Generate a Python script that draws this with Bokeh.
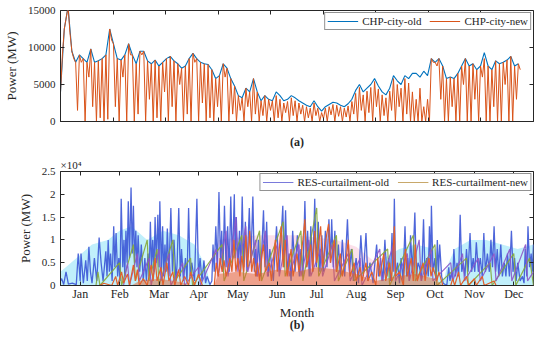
from bokeh.plotting import figure
from bokeh.layouts import column
from bokeh.models import LinearAxis, FixedTicker, Range1d, Legend, LegendItem, Title
from bokeh.embed import file_html
from bokeh.resources import INLINE

# ---------------- data ----------------
# (a) CHP city output, MW, sampled every 72 h (old) and every 36 h (new)
chp_old_hour = list(range(0, 8761, 72))
chp_old = [4000, 12500, 15500, 9500, 8000, 9000, 8500, 8000, 9800, 8000,
           8200, 8500, 9000, 12500, 10500, 8500, 8300, 9000, 10500, 9000,
           7800, 9500, 9500, 8200, 7800, 8300, 7500, 8000, 8500, 8800,
           8200, 7800, 7200, 7500, 8500, 9200, 8500, 8000, 7800, 7700,
           7000, 5800, 6200, 7800, 7200, 5800, 4800, 3500, 3200, 4500,
           4000, 5800, 4000, 2800, 3500, 3000, 2800, 4000, 3500, 2800,
           3000, 3500, 3200, 2800, 2500, 2200, 2000, 2800, 2000, 1400,
           2000, 2300, 2600, 2500, 2200, 2000, 2400, 3000, 4200, 5000,
           4000, 4500, 5000, 5800, 4800, 4000, 3600, 4500, 6200, 5500,
           5000, 6200, 5800, 6500, 6500, 6000, 6800, 6200, 8500, 8000,
           8500, 7500, 5800, 6000, 5800, 6500, 7500, 8500, 7500, 7800,
           7000, 7500, 9300, 7500, 7000, 8200, 7800, 8000, 8300, 8800,
           7500, 7800]
chp_new_hour = list(range(0, 8761, 36))
chp_new = [4000, 9000, 12500, 14000, 15500, 12000, 9500, 8500, 8000, 1500, 9000, 8000, 8500, 0, 8000, 6000, 9800, 2000, 8000, 0,
           8200, 500, 8500, 0, 9000, 300, 12500, 11000, 10500, 2000, 8500, 0, 8300, 6000, 9000, 0, 10500, 9000, 9000, 0,
           7800, 1000, 9500, 9000, 9500, 0, 8200, 3000, 7800, 0, 8300, 500, 7500, 0, 8000, 4000, 8500, 0, 8800, 2000,
           8200, 0, 7800, 5000, 7200, 0, 7500, 1000, 8500, 0, 9200, 8000, 8500, 0, 8000, 2500, 7800, 0, 7700, 500,
           7000, 0, 5800, 2000, 6200, 0, 7800, 6000, 7200, 0, 5800, 1000, 4800, 0, 3500, 1500, 3200, 0, 4500, 2000,
           4000, 0, 5800, 1000, 4000, 0, 2800, 800, 3500, 0, 3000, 1500, 2800, 0, 3500, 500, 3000, 0, 2500, 1200,
           2700, 0, 3200, 800, 2800, 0, 2500, 1000, 2200, 0, 2000, 500, 1800, 0, 2500, 800, 1800, 0, 1200, 400,
           1800, 0, 2000, 900, 2300, 0, 2200, 700, 2000, 0, 1800, 600, 2100, 0, 2700, 1000, 3800, 0, 4600, 1500,
           3600, 0, 4100, 1200, 4600, 0, 5400, 2000, 4400, 0, 3600, 800, 3200, 0, 4100, 1500, 5800, 0, 5000, 2000,
           4500, 0, 5800, 1000, 5200, 0, 4000, 0, 3000, 0, 4500, 0, 2000, 0, 3000, 0, 8500, 8000, 8000, 7500,
           8500, 3000, 7500, 0, 5800, 0, 6000, 2000, 5800, 0, 6500, 0, 7500, 5000, 8500, 0, 7500, 0, 7800, 3000,
           7000, 0, 7500, 6000, 8500, 0, 7500, 0, 7000, 2000, 8200, 0, 7800, 0, 8000, 5000, 8300, 0, 8800, 0,
           7500, 3000, 7800, 7000]

# (b) RES curtailment, (month, power in 10^4 MW)
res_old = [(0.00, 0.10), (0.03, 0.15), (0.08, 0.02), (0.14, 0.30), (0.20, 0.03), (0.30, 0.05), (0.40, 0.02),
           (0.45, 0.70), (0.50, 0.10), (0.52, 0.70), (0.58, 0.05), (0.64, 0.55), (0.68, 0.10), (0.72, 0.85),
           (0.76, 0.30), (0.80, 0.05), (0.86, 0.60), (0.92, 0.10), (0.98, 1.05), (1.03, 0.50), (1.08, 0.10),
           (1.15, 0.75), (1.18, 0.20), (1.21, 1.00), (1.24, 0.30), (1.27, 0.70), (1.31, 0.10), (1.35, 1.30),
           (1.38, 0.40), (1.41, 1.15), (1.45, 0.20), (1.48, 0.60), (1.51, 0.10), (1.54, 1.90), (1.58, 0.40),
           (1.61, 1.00), (1.63, 0.20), (1.66, 1.20), (1.69, 0.50), (1.72, 1.85), (1.75, 0.60), (1.79, 2.15),
           (1.82, 0.70), (1.85, 1.75), (1.88, 0.50), (1.91, 1.20), (1.94, 0.40), (1.97, 1.10), (2.01, 0.30),
           (2.05, 0.90), (2.10, 0.10), (2.14, 0.60), (2.18, 0.10), (2.22, 0.70), (2.25, 0.20), (2.28, 1.40),
           (2.31, 0.40), (2.34, 1.00), (2.37, 0.30), (2.40, 1.50), (2.43, 0.50), (2.47, 1.55), (2.50, 0.40),
           (2.52, 1.85), (2.56, 0.30), (2.59, 1.30), (2.62, 0.20), (2.65, 0.90), (2.68, 0.30), (2.71, 1.25),
           (2.75, 0.20), (2.80, 1.70), (2.84, 0.30), (2.88, 1.00), (2.93, 0.10), (2.96, 0.50), (3.00, 1.70),
           (3.04, 0.20), (3.07, 0.80), (3.12, 0.10), (3.17, 0.60), (3.21, 0.10), (3.25, 1.70), (3.29, 0.20),
           (3.33, 0.50), (3.40, 0.10), (3.46, 1.90), (3.50, 0.20), (3.54, 0.60), (3.59, 0.10), (3.64, 0.55),
           (3.68, 0.05), (3.72, 0.20), (3.79, 0.02), (3.84, 0.10), (3.87, 0.90), (3.90, 0.30), (3.94, 1.30),
           (3.98, 0.40), (4.02, 2.05), (4.06, 0.50), (4.09, 1.20), (4.12, 0.30), (4.16, 1.75), (4.20, 0.40),
           (4.24, 1.30), (4.28, 0.30), (4.32, 1.95), (4.36, 0.50), (4.41, 2.00), (4.43, 0.60), (4.46, 1.50),
           (4.50, 0.40), (4.54, 1.20), (4.57, 0.30), (4.61, 1.95), (4.65, 0.40), (4.69, 1.40), (4.73, 0.30),
           (4.79, 1.70), (4.83, 0.50), (4.88, 1.95), (4.92, 0.30), (4.95, 0.80), (4.98, 0.20), (5.02, 1.00),
           (5.08, 0.20), (5.15, 1.65), (5.19, 0.40), (5.23, 1.40), (5.27, 0.20), (5.31, 0.80), (5.40, 0.10),
           (5.48, 1.30), (5.55, 0.30), (5.64, 1.75), (5.67, 0.40), (5.71, 1.65), (5.75, 0.30), (5.80, 0.70),
           (5.85, 0.10), (5.89, 1.20), (5.95, 0.30), (6.01, 1.10), (6.06, 0.20), (6.10, 0.80), (6.15, 0.20),
           (6.20, 1.85), (6.24, 0.40), (6.27, 1.20), (6.31, 0.20), (6.35, 1.30), (6.40, 0.30), (6.45, 1.90),
           (6.49, 0.40), (6.54, 1.40), (6.58, 0.30), (6.63, 1.10), (6.67, 0.30), (6.72, 1.20), (6.76, 0.40),
           (6.81, 1.45), (6.85, 0.50), (6.88, 1.45), (6.92, 0.40), (6.96, 1.20), (7.00, 0.30), (7.05, 0.90),
           (7.10, 0.20), (7.15, 1.00), (7.21, 0.20), (7.28, 1.45), (7.33, 0.30), (7.38, 0.80), (7.43, 0.10),
           (7.50, 0.60), (7.56, 0.05), (7.62, 1.10), (7.68, 0.20), (7.75, 1.15), (7.80, 0.10), (7.85, 0.50),
           (7.93, 0.05), (8.02, 0.90), (8.07, 0.20), (8.12, 0.60), (8.18, 0.10), (8.23, 1.00), (8.28, 0.20),
           (8.33, 0.60), (8.37, 0.10), (8.41, 1.15), (8.44, 0.30), (8.47, 1.90), (8.50, 0.20), (8.55, 0.50),
           (8.60, 0.05), (8.64, 0.60), (8.69, 0.10), (8.74, 1.30), (8.78, 0.20), (8.81, 0.60), (8.85, 0.10),
           (8.88, 1.10), (8.93, 0.30), (8.99, 1.60), (9.03, 0.20), (9.07, 0.50), (9.11, 0.40), (9.16, 0.10),
           (9.21, 1.45), (9.25, 0.20), (9.29, 0.60), (9.33, 0.20), (9.36, 1.30), (9.39, 0.40), (9.41, 1.75),
           (9.45, 0.30), (9.50, 0.60), (9.53, 0.10), (9.56, 1.00), (9.59, 0.30), (9.62, 0.90), (9.67, 0.20),
           (9.71, 0.05), (9.80, 0.00), (9.85, 0.40), (9.88, 0.10), (9.92, 0.30), (9.95, 0.10), (9.98, 0.80),
           (10.02, 0.20), (10.06, 0.50), (10.10, 0.20), (10.14, 1.55), (10.18, 0.30), (10.22, 0.50),
           (10.26, 0.20), (10.30, 0.80), (10.34, 0.30), (10.39, 1.15), (10.43, 0.30), (10.47, 0.60),
           (10.51, 0.30), (10.55, 0.95), (10.60, 0.30), (10.65, 0.60), (10.70, 0.20), (10.74, 1.15),
           (10.78, 0.30), (10.83, 0.70), (10.88, 0.30), (10.92, 1.00), (10.96, 0.40), (11.00, 1.30),
           (11.04, 0.30), (11.08, 0.80), (11.12, 0.20), (11.17, 0.90), (11.21, 0.20), (11.26, 0.50),
           (11.30, 0.20), (11.34, 0.70), (11.39, 0.20), (11.44, 1.20), (11.48, 0.30), (11.52, 0.60),
           (11.56, 0.10), (11.60, 0.50), (11.66, 0.10), (11.72, 0.20), (11.76, 0.05), (11.79, 0.80),
           (11.83, 0.20), (11.86, 1.30), (11.90, 0.40), (11.94, 0.70), (11.97, 0.30), (12.00, 0.90)]
res_new = [(0.0, 0.0), (1.0, 0.0), (1.1, 0.05), (1.3, 0.0), (1.4, 0.2), (1.45, 0.0), (1.55, 0.3), (1.6, 0.05),
           (1.7, 0.25), (1.75, 0.0), (1.85, 0.45), (1.9, 0.1), (1.95, 0.35), (2.0, 0.0), (2.1, 0.15), (2.2, 0.0),
           (2.3, 0.45), (2.35, 0.1), (2.4, 0.6), (2.45, 0.1), (2.55, 0.4), (2.6, 0.0), (2.7, 0.5), (2.75, 0.1),
           (2.85, 0.3), (2.9, 0.0), (3.0, 0.35), (3.05, 0.0), (3.15, 0.2), (3.25, 0.0), (3.3, 0.3), (3.4, 0.0),
           (3.5, 0.25), (3.6, 0.0), (3.9, 0.0), (3.95, 0.5), (4.0, 0.2), (4.05, 0.6), (4.1, 0.3), (4.15, 0.55),
           (4.2, 0.2), (4.3, 0.6), (4.35, 0.3), (4.4, 1.0), (4.45, 0.3), (4.5, 0.6), (4.55, 0.2), (4.6, 0.65),
           (4.65, 0.3), (4.7, 1.1), (4.75, 0.4), (4.8, 1.2), (4.85, 0.3), (4.9, 0.6), (4.95, 0.2), (5.0, 0.5),
           (5.05, 0.1), (5.1, 0.6), (5.15, 0.9), (5.2, 0.3), (5.3, 0.5), (5.35, 0.1), (5.45, 1.0), (5.5, 0.3),
           (5.6, 1.3), (5.65, 0.4), (5.7, 1.0), (5.75, 0.2), (5.85, 0.8), (5.9, 0.2), (6.0, 0.7), (6.05, 0.3),
           (6.15, 1.0), (6.2, 1.45), (6.25, 0.4), (6.35, 0.9), (6.4, 0.3), (6.45, 1.2), (6.5, 0.5), (6.6, 1.3),
           (6.65, 0.4), (6.75, 1.1), (6.8, 1.35), (6.85, 0.5), (6.95, 1.0), (7.0, 0.3), (7.1, 0.7), (7.15, 0.2),
           (7.25, 0.6), (7.3, 1.0), (7.35, 0.2), (7.45, 0.5), (7.5, 0.1), (7.6, 0.4), (7.65, 0.1), (7.75, 0.5),
           (7.8, 0.1), (7.9, 0.3), (8.0, 0.0), (8.05, 0.6), (8.1, 0.2), (8.2, 0.7), (8.25, 0.1), (8.35, 0.5),
           (8.4, 0.1), (8.47, 1.3), (8.5, 0.2), (8.6, 0.3), (8.7, 0.0), (8.75, 0.8), (8.8, 0.2), (8.9, 0.6),
           (8.95, 0.1), (9.0, 0.9), (9.05, 0.1), (9.2, 0.5), (9.25, 0.1), (9.35, 0.6), (9.4, 0.2), (9.45, 0.4),
           (9.55, 0.1), (9.6, 0.3), (9.7, 0.0), (9.9, 0.0), (9.95, 0.15), (10.0, 0.0), (10.1, 0.3), (10.15, 0.0),
           (10.3, 0.2), (10.35, 0.0), (10.5, 0.15), (10.55, 0.0), (10.7, 0.2), (10.75, 0.0), (11.0, 0.1),
           (11.05, 0.0), (12.0, 0.0)]
res_new_base = [(1.8, 0.0), (2.0, 0.1), (2.5, 0.15), (3.0, 0.08), (3.3, 0.0), (3.9, 0.0), (4.0, 0.25), (4.5, 0.3),
                (5.0, 0.25), (5.5, 0.35), (6.0, 0.3), (6.5, 0.4), (7.0, 0.35), (7.5, 0.25), (8.0, 0.1),
                (8.5, 0.2), (9.0, 0.25), (9.5, 0.15), (9.7, 0.0)]
res_purple = [(0.0, 0.0), (1.6, 0.0), (1.7, 0.5), (1.75, 0.0), (1.95, 0.7), (2.0, 0.1), (2.25, 0.6), (2.3, 0.0),
              (2.5, 0.8), (2.55, 0.1), (2.75, 0.7), (2.8, 0.0), (3.1, 0.5), (3.15, 0.0), (3.5, 0.4), (3.55, 0.0),
              (3.95, 0.8), (4.0, 0.2), (4.2, 1.2), (4.25, 0.2), (4.45, 1.5), (4.5, 0.3), (4.7, 1.3), (4.75, 0.3),
              (4.95, 1.0), (5.0, 0.2), (5.2, 1.2), (5.25, 0.2), (5.5, 0.9), (5.55, 0.2), (5.75, 1.1), (5.8, 0.2),
              (6.05, 0.9), (6.1, 0.2), (6.3, 1.0), (6.35, 0.2), (6.6, 0.8), (6.65, 0.2), (6.9, 0.9), (6.95, 0.1),
              (7.3, 0.7), (7.35, 0.1), (7.6, 0.6), (7.65, 0.0), (8.1, 0.8), (8.15, 0.1), (8.45, 0.9), (8.5, 0.1),
              (8.8, 0.7), (8.85, 0.1), (9.1, 1.0), (9.15, 0.1), (9.4, 0.8), (9.45, 0.1), (9.9, 0.5), (9.95, 0.1),
              (10.2, 0.7), (10.25, 0.1), (10.6, 0.6), (10.65, 0.1), (11.0, 0.7), (11.05, 0.1), (11.4, 0.8),
              (11.45, 0.1), (11.8, 0.9), (11.85, 0.1), (12.0, 0.3)]
res_green = [(0.0, 0.0), (0.9, 0.0), (0.95, 0.3), (1.0, 0.0), (1.5, 0.5), (1.55, 0.0), (1.85, 0.9), (1.9, 0.1),
             (2.2, 1.0), (2.25, 0.1), (2.45, 0.8), (2.5, 0.0), (2.85, 1.0), (2.9, 0.1), (3.3, 0.6), (3.35, 0.0),
             (4.1, 0.9), (4.15, 0.1), (4.6, 1.1), (4.65, 0.1), (5.05, 1.2), (5.1, 0.1), (5.65, 1.4), (5.7, 0.2),
             (6.1, 1.2), (6.15, 0.1), (6.5, 1.7), (6.55, 0.2), (7.0, 1.1), (7.05, 0.1), (7.4, 0.8), (7.45, 0.1),
             (8.3, 0.8), (8.35, 0.0), (8.95, 1.1), (9.0, 0.1), (9.5, 0.9), (9.55, 0.0), (10.3, 0.6), (10.35, 0.0),
             (10.9, 0.5), (10.95, 0.0), (11.5, 0.7), (11.55, 0.0), (11.9, 0.6), (12.0, 0.0)]
res_cyan_env = [(0.0, 0.3), (0.4, 0.6), (0.8, 0.9), (1.2, 1.0), (1.5, 1.2), (1.8, 1.3), (2.2, 1.0), (2.6, 1.2),
                (3.0, 1.1), (3.4, 0.9), (3.7, 0.4), (3.8, 0.0), (8.0, 0.0), (8.2, 0.6), (8.6, 0.8), (9.0, 0.9),
                (9.5, 0.8), (9.7, 0.0), (9.8, 0.4), (10.0, 0.8), (10.4, 1.0), (10.8, 1.0), (11.2, 0.9),
                (11.6, 0.8), (12.0, 0.9)]
res_pink_env = [(3.9, 0.0), (4.0, 1.0), (5.0, 1.1), (6.0, 1.1), (7.0, 1.0), (7.5, 0.85), (8.0, 0.5), (8.1, 0.0)]

month_labels = ["Jan", "Feb", "Mar", "Apr", "May", "Jun", "Jul", "Aug", "Sep", "Oct", "Nov", "Dec"]
month_ticks = [0.5, 1.5, 2.5, 3.5, 4.5, 5.5, 6.5, 7.5, 8.5, 9.5, 10.5, 11.5]
res_yticks = [0, 0.5, 1, 1.5, 2, 2.5]
res_ylabels = ["0", "0.5", "1", "1.5", "2", "2.5"]
chp_yticks = [0, 5000, 10000, 15000]
chp_xticks = [1000, 2000, 3000, 4000, 5000, 6000, 7000, 8000]

# ---------------- style ----------------
FONT = "Liberation Serif"
AX = "#262626"
W = 534
NAN = float("nan")


def unzip(pairs):
    return [a for a, b in pairs], [b for a, b in pairs]


def base_axis(ax):
    ax.axis_line_color = AX
    ax.major_tick_line_color = AX
    ax.major_tick_in = 4
    ax.major_tick_out = 0
    ax.minor_tick_line_color = None
    ax.major_label_text_font = FONT
    ax.major_label_text_font_size = "11px"
    ax.major_label_text_color = AX
    ax.axis_label_text_font = FONT
    ax.axis_label_text_font_size = "13px"
    ax.axis_label_text_font_style = "normal"
    ax.axis_label_text_color = AX


def hide_labels(ax):
    ax.major_label_text_font_size = "1px"
    ax.major_label_text_color = None
    ax.major_label_standoff = 0


def style(p, xticks, yticks):
    p.grid.visible = False
    p.outline_line_color = AX
    p.outline_line_width = 1
    xa = p.below[0]
    ya = p.left[0]
    base_axis(xa)
    base_axis(ya)
    xa.ticker = FixedTicker(ticks=xticks)
    ya.ticker = FixedTicker(ticks=yticks)
    for side, tk in (("above", xticks), ("right", yticks)):
        a = LinearAxis(ticker=FixedTicker(ticks=tk), axis_line_color=None,
                       major_tick_line_color=AX, major_tick_in=4, major_tick_out=0,
                       minor_tick_line_color=None)
        hide_labels(a)
        p.add_layout(a, side)
    return xa, ya


def make_legend(items):
    return Legend(items=items, orientation="horizontal", location="top_right", margin=2, padding=2,
                  spacing=8, glyph_width=31, glyph_height=10, label_standoff=4,
                  label_text_font=FONT, label_text_font_size="11px", label_text_color=AX,
                  label_height=12, border_line_color=AX, border_line_width=1,
                  background_fill_color="white", background_fill_alpha=1)


# ---------------- (a) ----------------
p1 = figure(width=W, height=154, output_backend="svg", toolbar_location=None,
            x_range=Range1d(0, 9000), y_range=Range1d(0, 15000),
            min_border_left=49, min_border_right=1, min_border_top=10, min_border_bottom=33)
r_old = p1.line(chp_old_hour, chp_old, line_color="#0072BD", line_width=1.1)
r_new = p1.line(chp_new_hour, chp_new, line_color="#D95319", line_width=1.0)
xa1, ya1 = style(p1, chp_xticks, chp_yticks)
hide_labels(xa1)
xa1.axis_label = "(a)"
xa1.axis_label_text_font_style = "bold"
xa1.axis_label_text_font_size = "12px"
xa1.axis_label_standoff = 13
ya1.axis_label = "Power (MW)"
ya1.axis_label_standoff = 6
p1.add_layout(make_legend([LegendItem(label="CHP-city-old", renderers=[r_old]),
                           LegendItem(label="CHP-city-new", renderers=[r_new])]), "center")

# ---------------- (b) ----------------
p2 = figure(width=W, height=180, output_backend="svg", toolbar_location=None,
            x_range=Range1d(0, 12), y_range=Range1d(0, 2.5),
            min_border_left=49, min_border_right=1, min_border_top=17, min_border_bottom=48)
cx, cy = unzip(res_cyan_env)
p2.varea(x=cx, y1=[0] * len(cx), y2=cy, fill_color="#B5ECFA", fill_alpha=0.85)
px_, py_ = unzip(res_pink_env)
p2.varea(x=px_, y1=[0] * len(px_), y2=py_, fill_color="#FBDDE8", fill_alpha=0.9)
ox, oy = unzip(res_old)
p2.line(ox, oy, line_color="#3B55D6", line_width=1.3, line_alpha=0.9)
gx, gy = unzip(res_green)
p2.line(gx, gy, line_color="#86A83A", line_width=1.2, line_alpha=0.9)
ux, uy = unzip(res_purple)
p2.line(ux, uy, line_color="#8E55C8", line_width=1.2, line_alpha=0.9)
bx, by = unzip(res_new_base)
p2.varea(x=bx, y1=[0] * len(bx), y2=by, fill_color="#E2602C", fill_alpha=0.5)
nx, ny = unzip(res_new)
p2.line(nx, ny, line_color="#E2602C", line_width=1.2)
# legend proxies (no visible data)
lo = p2.line([0, 1], [NAN, NAN], line_color="#7A7ADB", line_width=1)
ln = p2.line([0, 1], [NAN, NAN], line_color="#C8A86A", line_width=1)
xa2, ya2 = style(p2, month_ticks, res_yticks)
xa2.major_label_overrides = {t: m for t, m in zip(month_ticks, month_labels)}
xa2.major_label_text_font_size = "12px"
xa2.major_label_standoff = 1
xa2.axis_label = "Month"
xa2.axis_label_standoff = 1
ya2.major_label_overrides = {t: s for t, s in zip(res_yticks, res_ylabels)}
ya2.axis_label = "Power (MW)"
ya2.axis_label_standoff = 6
bl = LinearAxis(axis_label="(b)", ticker=FixedTicker(ticks=[]), axis_line_color=None,
                major_tick_line_color=None, minor_tick_line_color=None, axis_label_standoff=-5,
                axis_label_text_font=FONT, axis_label_text_font_size="12px",
                axis_label_text_font_style="bold", axis_label_text_color=AX)
hide_labels(bl)
p2.add_layout(bl, "below")
p2.add_layout(make_legend([LegendItem(label="RES-curtailment-old", renderers=[lo]),
                           LegendItem(label="RES-curtailment-new", renderers=[ln])]), "center")
p2.add_layout(Title(text="×10⁴", align="left", text_font=FONT, text_font_size="11px",
                    text_font_style="normal", text_color=AX, standoff=1, offset=0), "above")

layout = column(p1, p2, spacing=0)
open("out.html", "w").write(file_html(layout, INLINE))
